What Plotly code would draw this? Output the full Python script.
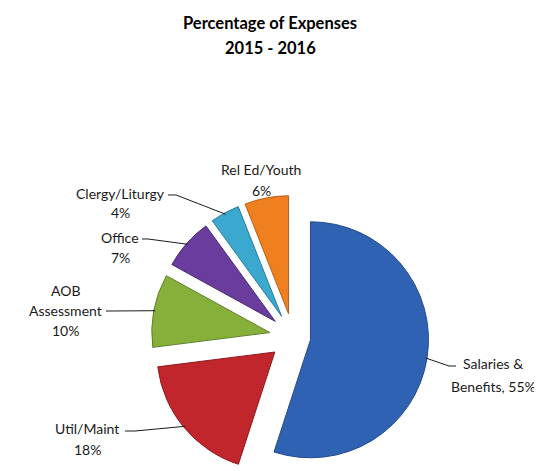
import math
import plotly.graph_objects as go

# ---- data ----
categories = ["Salaries & Benefits", "Util/Maint", "AOB Assessment", "Office", "Clergy/Liturgy", "Rel Ed/Youth"]
values = [55, 18, 10, 7, 4, 6]
label_lines = [
    ["Salaries &", "Benefits, 55%"],
    ["Util/Maint", "18%"],
    ["AOB", "Assessment", "10%"],
    ["Office", "7%"],
    ["Clergy/Liturgy", "4%"],
    ["Rel Ed/Youth", "6%"],
]
title_lines = ["Percentage of Expenses", "2015 - 2016"]

# ---- style ----
colors = ["#3062B4", "#C0262B", "#86B03A", "#6A3C9E", "#3BA8CF", "#F07F20"]
edge_colors = ["#23498A", "#8E1B1F", "#5F8227", "#4C2A75", "#2A7C9A", "#B85D15"]
pulls = [0.15, 0.2, 0.2, 0.2, 0.2, 0.2]

W, H = 542, 471
cx, cy, r = 285, 329, 118
half = r * (1 + max(pulls))
dom_x = [max(0.0, (cx - half) / W), min(1.0, (cx + half) / W)]
dom_y = [max(0.0, 1 - (cy + half) / H), min(1.0, 1 - (cy - half) / H)]

# label layout (pixel centres of first line, line gap, leader line start and knee)
label_pos = [
    (485, 355, 23, (441, 358), (448, 358)),
    (79, 420, 21, (117, 423), (127, 423)),
    (57, 282, 20, (98, 303), (105, 303)),
    (112, 229, 20, (134, 231), (140, 231)),
    (112, 185, 19, (160, 187), (168, 187)),
    (253, 162, 20, None, None),
]

FONT = "Lato"

def px2paper(x, y):
    return x / W, 1 - y / H

fig = go.Figure(go.Pie(
    labels=categories,
    values=values,
    sort=False,
    direction="clockwise",
    rotation=0,
    pull=pulls,
    textinfo="none",
    hoverinfo="label+percent",
    marker=dict(colors=colors, line=dict(color=edge_colors, width=1)),
    domain=dict(x=dom_x, y=dom_y),
    showlegend=False,
))

annotations = []
shapes = []
total = sum(values)
cum = 0
for i, v in enumerate(values):
    theta = math.radians(360 * (cum + v / 2) / total)
    cum += v
    lx, ly, gap, start, knee = label_pos[i]
    for j, line in enumerate(label_lines[i]):
        px, py = px2paper(lx, ly + j * gap)
        annotations.append(dict(
            x=px, y=py, xref="paper", yref="paper", text=line, showarrow=False,
            xanchor="center", yanchor="middle",
            font=dict(family=FONT, size=14, color="#1a1a1a"),
        ))
    if start is not None:
        rr = (1 + pulls[i]) * r * 0.99
        tx = cx + rr * math.sin(theta)
        ty = cy - rr * math.cos(theta)
        if start[0] > tx:
            pts = [(tx, ty), start, knee]
        else:
            pts = [start, knee, (tx, ty)]
        path = ""
        for k, (x, y) in enumerate(pts):
            qx, qy = px2paper(x, y)
            path += ("M" if k == 0 else " L") + f" {qx:.4f},{qy:.4f}"
        shapes.append(dict(type="path", path=path, xref="paper", yref="paper",
                           line=dict(color="#1a1a1a", width=1)))

for j, t in enumerate(title_lines):
    px, py = px2paper(262, 15 + j * 25)
    annotations.append(dict(
        x=px, y=py, xref="paper", yref="paper", text=f"<b>{t}</b>", showarrow=False,
        xanchor="center", yanchor="middle",
        font=dict(family=FONT, size=16.5, color="#000000"),
    ))

fig.update_layout(
    width=W, height=H,
    margin=dict(l=0, r=0, t=0, b=0),
    paper_bgcolor="white",
    plot_bgcolor="white",
    annotations=annotations,
    shapes=shapes,
)

fig.write_html("out.html")
